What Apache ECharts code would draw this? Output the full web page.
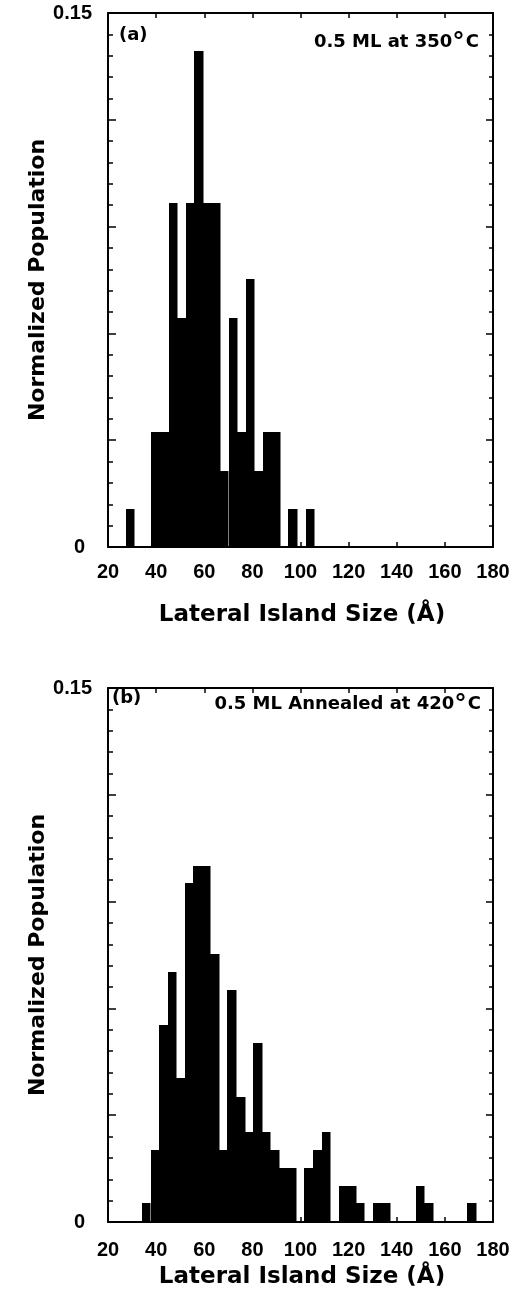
<!DOCTYPE html>
<html>
<head>
<meta charset="utf-8">
<script src="https://cdn.jsdelivr.net/npm/echarts@6/dist/echarts.min.js"></script>
<style>
html,body{margin:0;padding:0;background:#fff;}
#chart{width:515px;height:1311px;}
</style>
</head>
<body>
<div id="chart"></div>
<script>
// ---- data ----
const BIN_WIDTH = 3.56; // histogram bin width (Å)
const xTicks = [20, 40, 60, 80, 100, 120, 140, 160, 180];

// (a) 0.5 ML at 350°C : bin start (Å) and normalized population
const binStartsA = [27.4, 31.0, 34.5, 38.0, 41.6, 45.2, 48.7, 52.3, 55.8, 59.4, 63.0,
                    66.5, 70.1, 73.6, 77.2, 80.8, 84.3, 87.9, 91.4, 95.0, 98.6, 102.1];
const populationA = [0.0106, 0, 0, 0.0322, 0.0322, 0.0966, 0.0642, 0.0966, 0.1392, 0.0966, 0.0966,
                     0.0214, 0.0644, 0.0322, 0.0752, 0.0214, 0.0322, 0.0322, 0, 0.0106, 0, 0.0106];

// (b) 0.5 ML annealed at 420°C
const binStartsB = [34.1, 37.7, 41.2, 44.8, 48.3, 51.9, 55.4, 59.0, 62.5, 66.1, 69.6, 73.2, 76.8,
                    80.3, 83.9, 87.4, 91.0, 94.5, 98.1, 101.6, 105.2, 108.8, 112.3, 115.9, 119.4,
                    123.0, 126.5, 130.1, 133.6, 137.2, 140.7, 144.3, 147.9, 151.4, 155.0, 158.5,
                    162.1, 165.6, 169.2];
const populationB = [0.0053, 0.0201, 0.0554, 0.0701, 0.0404, 0.0951, 0.1001, 0.1001, 0.0752, 0.0201,
                     0.0651, 0.0352, 0.0252, 0.0504, 0.0252, 0.0201, 0.0153, 0.0153, 0, 0.0153,
                     0.0201, 0.0252, 0, 0.0102, 0.0102, 0.0053, 0, 0.0053, 0.0053, 0, 0, 0,
                     0.0102, 0.0053, 0, 0, 0, 0, 0.0053];

const panelLabels = ['(a)', '(b)'];
const conditionText = [['0.5 ML at 350', 'C'], ['0.5 ML Annealed at 420', 'C']];
const xTitle = 'Lateral Island Size (Å)';
const yTitle = 'Normalized Population';

// ---- chart ----
const chart = echarts.init(document.getElementById('chart'), null, {renderer: 'canvas'});
const grids = [
  {left: 108, top: 13, width: 385, height: 534},
  {left: 108, top: 688, width: 385, height: 534}
];
const lineStyle = {color: '#000', width: 2};
const tickStyle = {color: '#000', width: 1.5};

function xAxisBottom(gi, margin) {
  return {
    gridIndex: gi, type: 'value', min: 20, max: 180, interval: 20, position: 'bottom',
    axisLine: {show: true, onZero: false, lineStyle: lineStyle},
    axisTick: {show: true, inside: true, length: 5, lineStyle: tickStyle},
    axisLabel: {show: true, margin: margin, color: '#000', fontFamily: 'Liberation Sans', fontWeight: 'bold', fontSize: 20,
      formatter: v => (xTicks.indexOf(v) >= 0 ? String(v) : '')},
    splitLine: {show: false}
  };
}
function xAxisTop(gi) {
  return {
    gridIndex: gi, type: 'value', min: 20, max: 180, interval: 20, position: 'top',
    axisLine: {show: true, onZero: false, lineStyle: lineStyle},
    axisTick: {show: true, inside: true, length: 5, lineStyle: tickStyle},
    axisLabel: {show: false}, splitLine: {show: false}
  };
}
function yAxisLeft(gi) {
  return {
    gridIndex: gi, type: 'value', min: 0, max: 0.15, interval: 0.03, position: 'left',
    axisLine: {show: true, onZero: false, lineStyle: lineStyle},
    axisTick: {show: true, inside: true, length: 8, lineStyle: tickStyle},
    minorTick: {show: true, splitNumber: 5, length: 5, lineStyle: tickStyle},
    axisLabel: {show: true, margin: 16, color: '#000', fontFamily: 'Liberation Sans', fontWeight: 'bold', fontSize: 20,
      formatter: v => (v === 0 ? '{z|0}' : (Math.abs(v - 0.15) < 1e-9 ? '0.15' : '')),
      rich: {z: {fontFamily: 'Liberation Sans', fontWeight: 'bold', fontSize: 20, color: '#000', padding: [0, 7, 0, 0]}}},
    splitLine: {show: false}, minorSplitLine: {show: false}
  };
}
function yAxisRight(gi) {
  return {
    gridIndex: gi, type: 'value', min: 0, max: 0.15, interval: 0.03, position: 'right',
    axisLine: {show: true, onZero: false, lineStyle: lineStyle},
    axisTick: {show: true, inside: true, length: 7, lineStyle: tickStyle},
    minorTick: {show: true, splitNumber: 5, length: 4, lineStyle: tickStyle},
    axisLabel: {show: false}, splitLine: {show: false}
  };
}

function renderBar(params, api) {
  const start = api.value(0);
  const h = api.value(1);
  if (!h) return null;
  const p0 = api.coord([start, h]);
  const p1 = api.coord([start + BIN_WIDTH, 0]);
  const x0 = Math.round(p0[0]);
  const x1 = Math.round(p1[0]);
  return {
    type: 'rect',
    shape: {x: x0, y: Math.round(p0[1]), width: x1 - x0 + 0.5, height: p1[1] - Math.round(p0[1])},
    style: {fill: '#000'}
  };
}

const font = 'DejaVu Sans';
function conditionGraphic(parts, right, cy) {
  return {
    type: 'text', x: right, y: cy,
    style: {
      text: '{t|' + parts[0] + '}{d|°}{t|' + parts[1] + '}',
      align: 'right', verticalAlign: 'middle', fill: '#000',
      rich: {
        t: {fontFamily: font, fontWeight: 'bold', fontSize: 18, lineHeight: 24, fill: '#000'},
        d: {fontFamily: font, fontWeight: 'bold', fontSize: 25, lineHeight: 24, fill: '#000', padding: [3, 1, 0, 0]}
      }
    }
  };
}
function plainText(txt, x, y, size, align, rot) {
  return {
    type: 'text', x: x, y: y, rotation: rot || 0,
    style: {text: txt, align: align, verticalAlign: 'middle', fill: '#000',
      fontFamily: font, fontWeight: 'bold', fontSize: size}
  };
}

const option = {
  backgroundColor: '#fff',
  animation: false,
  grid: grids,
  xAxis: [xAxisBottom(0, 15), xAxisTop(0), xAxisBottom(1, 18), xAxisTop(1)],
  yAxis: [yAxisLeft(0), yAxisRight(0), yAxisLeft(1), yAxisRight(1)],
  series: [
    {type: 'custom', xAxisIndex: 0, yAxisIndex: 0, renderItem: renderBar, clip: true,
     encode: {x: 0, y: 1}, data: binStartsA.map((s, i) => [s, populationA[i]])},
    {type: 'custom', xAxisIndex: 2, yAxisIndex: 2, renderItem: renderBar, clip: true,
     encode: {x: 0, y: 1}, data: binStartsB.map((s, i) => [s, populationB[i]])}
  ],
  graphic: [
    plainText(panelLabels[0], 119, 35, 18, 'left'),
    plainText(panelLabels[1], 112, 698, 18, 'left'),
    conditionGraphic(conditionText[0], 479, 42),
    conditionGraphic(conditionText[1], 481, 704),
    plainText(yTitle, 38, 280, 22, 'center', Math.PI / 2),
    plainText(yTitle, 38, 955, 22, 'center', Math.PI / 2),
    plainText(xTitle, 302, 615, 23, 'center'),
    plainText(xTitle, 302, 1277, 23, 'center')
  ]
};
chart.setOption(option);
</script>
</body>
</html>
